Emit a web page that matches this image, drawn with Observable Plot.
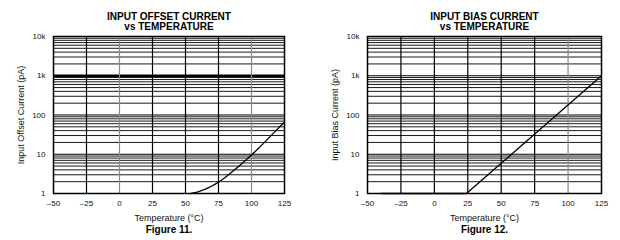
<!DOCTYPE html>
<html>
<head>
<meta charset="utf-8">
<script src="https://cdn.jsdelivr.net/npm/d3@7"></script>
<script src="https://cdn.jsdelivr.net/npm/@observablehq/plot@0.6"></script>
<style>
  body { margin: 0; background: #fff; }
  #wrap { position: relative; width: 620px; height: 240px; display: flex; }
  svg { display: block; }
</style>
</head>
<body>
<div id="wrap"></div>
<script>
// ---- data ----
const xTicks = [-50, -25, 0, 25, 50, 75, 100, 125];
const xTickLabels = ["\u201350", "\u201325", "0", "25", "50", "75", "100", "125"];
const yTicks = [1, 10, 100, 1000, 10000];
const yTickLabels = ["1", "10", "100", "1k", "10k"];

const offsetTemp = [54, 60, 65, 70, 75, 80, 87, 95, 100, 105, 110, 117, 125];
const offsetCurrent = [1.0, 1.12, 1.29, 1.55, 1.95, 2.57, 3.98, 6.76, 9.55, 13.8, 20.4, 35.5, 66];

const biasTemp = [-40, 24, 125];
const biasCurrent = [1, 1, 1000];

const titles1 = ["INPUT OFFSET CURRENT", "vs TEMPERATURE"];
const titles2 = ["INPUT BIAS CURRENT", "vs TEMPERATURE"];
const yLabel1 = "Input Offset Current (pA)";
const yLabel2 = "Input Bias Current (pA)";
const xLabel = "Temperature (\u00B0C)";
const caption1 = "Figure 11.";
const caption2 = "Figure 12.";

// minor log gridlines
const minorY = [];
for (const d of [1, 10, 100, 1000]) for (let m = 2; m <= 9; m++) minorY.push(d * m);

function chart({temps, values, titles, yLabel, caption, marginLeft, marginRight, thick1k, grayX, curve}) {
  const data = temps.map((t, i) => ({t, v: values[i]}));
  const blackX = xTicks.slice(1, -1).filter(x => !grayX.includes(x));
  const txt = {lineAnchor: "middle", textAnchor: "middle"};
  return Plot.plot({
    width: 310,
    height: 240,
    marginLeft, marginRight,
    marginTop: 36,
    marginBottom: 47,
    style: {fontFamily: "'Liberation Sans', Arial, sans-serif", fontSize: "8px", background: "#fff", color: "#111"},
    x: {domain: [-50, 125]},
    y: {type: "log", domain: [1, 10000]},
    marks: [
      Plot.ruleY(minorY, {stroke: "#1a1a1a", strokeWidth: 1}),
      Plot.ruleY(yTicks, {stroke: "#000", strokeWidth: d => (thick1k && d === 1000) ? 2.4 : 1.2}),
      Plot.ruleX(blackX, {stroke: "#000", strokeWidth: 1.2}),
      Plot.ruleX(grayX, {stroke: "#888", strokeWidth: 1.2}),
      Plot.line(data, {x: "t", y: "v", stroke: "#000", strokeWidth: 1.3, curve}),
      Plot.frame({stroke: "#000", strokeWidth: 1.5}),
      Plot.axisX({ticks: xTicks, tickSize: 0, tickPadding: 7, label: null,
                  tickFormat: d => xTickLabels[xTicks.indexOf(d)], fill: "#111"}),
      Plot.axisY({ticks: yTicks, tickSize: 0, tickPadding: 8, label: null,
                  tickFormat: d => yTickLabels[yTicks.indexOf(d)], fill: "#111"}),
      Plot.text([yLabel], {...txt, frameAnchor: "left", dx: -32, rotate: -90, fontSize: 9, fill: "#111"}),
      Plot.text([xLabel], {...txt, frameAnchor: "bottom", dy: 25, fontSize: 9, fill: "#111"}),
      Plot.text([caption], {...txt, frameAnchor: "bottom", dy: 36, fontSize: 10, fontWeight: "bold", fill: "#000"}),
      Plot.text([titles[0]], {...txt, frameAnchor: "top", dy: -20, fontSize: 10, fontWeight: "bold", fill: "#000"}),
      Plot.text([titles[1]], {...txt, frameAnchor: "top", dy: -10, fontSize: 10, fontWeight: "bold", fill: "#000"})
    ]
  });
}

const wrap = document.getElementById("wrap");
wrap.append(chart({
  temps: offsetTemp, values: offsetCurrent, titles: titles1, yLabel: yLabel1, caption: caption1,
  marginLeft: 53, marginRight: 26, thick1k: true, grayX: [0, 100], curve: "monotone-x"
}));
wrap.append(chart({
  temps: biasTemp, values: biasCurrent, titles: titles2, yLabel: yLabel2, caption: caption2,
  marginLeft: 57, marginRight: 19, thick1k: false, grayX: [100], curve: "linear"
}));
</script>
</body>
</html>
